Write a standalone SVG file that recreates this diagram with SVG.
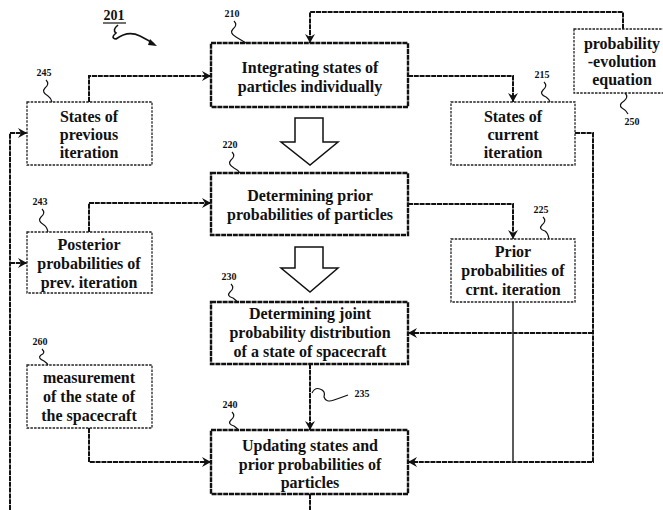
<svg xmlns="http://www.w3.org/2000/svg" width="663" height="510" viewBox="0 0 663 510">
<style>
.t{font-family:'Liberation Serif','DejaVu Serif','Times New Roman',serif;font-weight:bold;font-size:16px;fill:#111;text-anchor:middle}
.n{font-family:'Liberation Serif','DejaVu Serif','Times New Roman',serif;font-weight:bold;font-size:10px;fill:#111;text-anchor:middle}
.mb{fill:#fff;stroke:#111;stroke-width:2.4;stroke-dasharray:5 0.8}
.sb{fill:#fff;stroke:#222;stroke-width:1.3;stroke-dasharray:2.5 1.2}
.c{fill:none;stroke:#111;stroke-width:2;stroke-dasharray:5 0.8}
.s{fill:none;stroke:#111;stroke-width:1.2}
.blk{fill:#fff;stroke:#111;stroke-width:1.5}
</style>
<defs>
<marker id="ah" markerWidth="10" markerHeight="10" refX="9" refY="5" orient="auto" markerUnits="userSpaceOnUse">
<path d="M0,0 L9,5 L0,10 L3,5 Z" fill="#111"/>
</marker>
</defs>

<g id="connectors">
<path class="c" d="M623,29 V12 H310 V43" marker-end="url(#ah)"/>
<path class="c" d="M89,102 V76 H211" marker-end="url(#ah)"/>
<path class="c" d="M408,76 H513 V102" marker-end="url(#ah)"/>
<path class="c" d="M89,232 V203 H211" marker-end="url(#ah)"/>
<path class="c" d="M408,204 H513 V239" marker-end="url(#ah)"/>
<path class="c" d="M575,133 H593 V462 H408" marker-end="url(#ah)"/>
<path class="c" d="M593,333 H408" marker-end="url(#ah)"/>
<path fill="none" stroke="#333" stroke-width="1.6" d="M513,302 V462"/>
<path class="c" d="M310,364 V430" marker-end="url(#ah)"/>
<path class="c" d="M89,428 V462 H211" marker-end="url(#ah)"/>
<path class="c" d="M310,494 V510"/>
<path class="c" d="M10,510 V133 H27" marker-end="url(#ah)"/>
<path class="c" d="M10,263 H27" marker-end="url(#ah)"/>
<path class="blk" d="M295,118 H323 V142 H338 L310,165 L281,142 H295 Z"/>
<path class="blk" d="M295,247 H323 V268 H338 L310,292 L281,268 H295 Z"/>
</g>

<g id="label201">
<text class="t" x="114" y="20" style="font-size:14px">201</text>
<line x1="103" y1="23" x2="126" y2="23" stroke="#111" stroke-width="1.2"/>
<path fill="none" stroke="#111" stroke-width="1.6" d="M118,25 Q112,30 116,33 Q110,38 116,39 Q128,30 140,36 Q148,40 154,44"/>
<path d="M150,39 L157,46 L148,45 Z" fill="#111"/>
</g>

<g id="node210">
<rect class="mb" x="211" y="43" width="197" height="64"/>
<text class="t" x="310" y="73">Integrating states of</text>
<text class="t" x="310" y="92">particles individually</text>
<text class="n" x="232" y="17">210</text>
<path class="s" d="M234,21 q4,4 -1,8 q-4,4 3,8 q5,3 10,6"/>
</g>

<g id="node220">
<rect class="mb" x="211" y="173" width="197" height="62"/>
<text class="t" x="310" y="201">Determining prior</text>
<text class="t" x="310" y="220">probabilities of particles</text>
<text class="n" x="230" y="148">220</text>
<path class="s" d="M232,152 q4,4 -1,8 q-4,4 3,8 q4,2 6,5"/>
</g>

<g id="node230">
<rect class="mb" x="211" y="302" width="197" height="62"/>
<text class="t" x="310" y="319">Determining joint</text>
<text class="t" x="310" y="338">probability distribution</text>
<text class="t" x="310" y="357">of a state of spacecraft</text>
<text class="n" x="229" y="280">230</text>
<path class="s" d="M231,284 q4,4 -1,8 q-4,4 3,6 q3,2 4,4"/>
</g>

<g id="node240">
<rect class="mb" x="211" y="430" width="197" height="64"/>
<text class="t" x="310" y="451">Updating states and</text>
<text class="t" x="310" y="470">prior probabilities of</text>
<text class="t" x="310" y="488">particles</text>
<text class="n" x="230" y="408">240</text>
<path class="s" d="M232,412 q4,4 -1,8 q-4,4 3,6 q3,2 4,4"/>
</g>

<g id="node235">
<text class="n" x="362" y="397">235</text>
<path class="s" d="M312,393 q3,-6 8,-4 q6,2 4,8 q2,6 10,3 q6,-2 14,-5"/>
</g>

<g id="node245">
<rect class="sb" x="27" y="102" width="125" height="63"/>
<text class="t" x="89" y="122">States of</text>
<text class="t" x="89" y="140">previous</text>
<text class="t" x="89" y="158">iteration</text>
<text class="n" x="44" y="76">245</text>
<path class="s" d="M46,80 q4,4 -1,8 q-4,4 3,8 q3,2 4,6"/>
</g>

<g id="node243">
<rect class="sb" x="27" y="232" width="125" height="61"/>
<text class="t" x="89" y="250">Posterior</text>
<text class="t" x="89" y="269">probabilities of</text>
<text class="t" x="89" y="288">prev. iteration</text>
<text class="n" x="40" y="205">243</text>
<path class="s" d="M42,209 q4,4 -1,8 q-4,4 3,8 q3,2 4,7"/>
</g>

<g id="node260">
<rect class="sb" x="27" y="365" width="125" height="63"/>
<text class="t" x="89" y="383">measurement</text>
<text class="t" x="89" y="402">of the state of</text>
<text class="t" x="89" y="421">the spacecraft</text>
<text class="n" x="40" y="345">260</text>
<path class="s" d="M42,349 q4,4 -1,6 q-4,3 3,6 q3,2 4,4"/>
</g>

<g id="node215">
<rect class="sb" x="451" y="102" width="124" height="63"/>
<text class="t" x="513" y="122">States of</text>
<text class="t" x="513" y="140">current</text>
<text class="t" x="513" y="158">iteration</text>
<text class="n" x="542" y="78">215</text>
<path class="s" d="M544,82 q4,4 -1,8 q-4,4 3,7 q3,2 4,5"/>
</g>

<g id="node225">
<rect class="sb" x="451" y="239" width="124" height="63"/>
<text class="t" x="513" y="257">Prior</text>
<text class="t" x="513" y="276">probabilities of</text>
<text class="t" x="513" y="295">crnt. iteration</text>
<text class="n" x="541" y="213">225</text>
<path class="s" d="M543,217 q4,4 -1,8 q-4,4 3,6 q3,2 4,8"/>
</g>

<g id="node250">
<rect class="sb" x="574" y="29" width="100" height="64"/>
<text class="t" x="622" y="49">probability</text>
<text class="t" x="622" y="67">-evolution</text>
<text class="t" x="622" y="85">equation</text>
<text class="n" x="632" y="125">250</text>
<path class="s" d="M625,93 q4,4 -1,8 q-6,4 -2,7 q4,2 6,6"/>
</g>
</svg>
